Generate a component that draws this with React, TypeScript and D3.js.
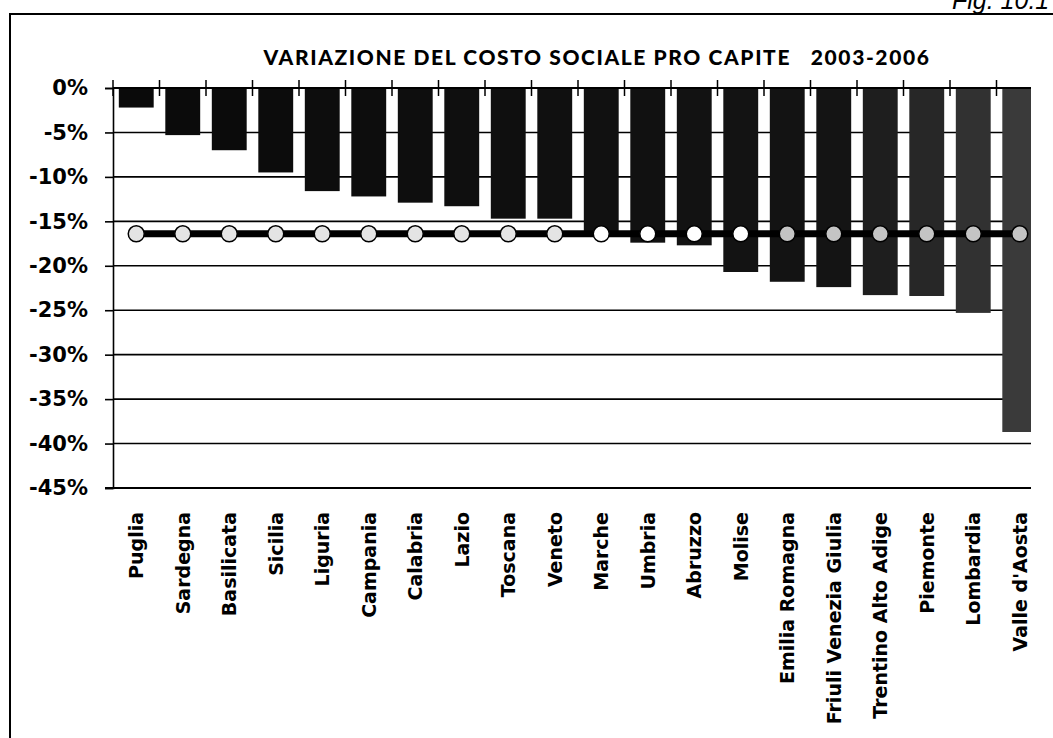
import React, { useEffect, useRef } from 'react';
import * as d3 from 'd3';

// regions, sorted as in the figure
const regions = [
  'Puglia', 'Sardegna', 'Basilicata', 'Sicilia', 'Liguria', 'Campania', 'Calabria',
  'Lazio', 'Toscana', 'Veneto', 'Marche', 'Umbria', 'Abruzzo', 'Molise',
  'Emilia Romagna', 'Friuli Venezia Giulia', 'Trentino Alto Adige', 'Piemonte',
  'Lombardia', "Valle d'Aosta",
];

// % change of social cost per capita 2003-2006
const variation = [
  -2.2, -5.3, -7.0, -9.5, -11.6, -12.2, -12.9, -13.3, -14.7, -14.7,
  -16.6, -17.4, -17.7, -20.7, -21.8, -22.4, -23.3, -23.4, -25.3, -38.7,
];

// Italy average, drawn as a line across all regions
const italyAverage = [
  -16.4, -16.4, -16.4, -16.4, -16.4, -16.4, -16.4, -16.4, -16.4, -16.4,
  -16.4, -16.4, -16.4, -16.4, -16.4, -16.4, -16.4, -16.4, -16.4, -16.4,
];

const yTicks = [0, -5, -10, -15, -20, -25, -30, -35, -40, -45];

const title = 'VARIAZIONE DEL COSTO SOCIALE PRO CAPITE   2003-2006';
const figLabel = 'Fig. 10.1';

const TITLE_FONT = 'Lato, "DejaVu Sans", sans-serif';
const FONT = '"DejaVu Sans", Lato, sans-serif';

const Chart = () => {
  const ref = useRef<HTMLDivElement>(null);

  useEffect(() => {
    if (!ref.current) return;
    d3.select(ref.current).selectAll('*').remove();

    const width = 1053;
    const height = 738;
    const left = 113;
    const top = 88;
    const bottom = 488;
    const clipRight = 1031;

    const svg = d3.select(ref.current)
      .append('svg')
      .attr('width', width)
      .attr('height', height)
      .style('display', 'block')
      .style('background', '#fff');

    // frame
    svg.append('line')
      .attr('x1', 9).attr('x2', width).attr('y1', 14).attr('y2', 14)
      .attr('stroke', '#000').attr('stroke-width', 2);
    svg.append('line')
      .attr('x1', 10).attr('x2', 10).attr('y1', 13).attr('y2', height)
      .attr('stroke', '#000').attr('stroke-width', 2);

    svg.append('text')
      .attr('x', 952)
      .attr('y', 9)
      .style('font-family', '"Liberation Sans", Arial, sans-serif')
      .style('font-style', 'italic')
      .style('font-size', '25px')
      .text(figLabel);

    // title
    svg.append('text')
      .attr('x', 597)
      .attr('y', 65)
      .attr('text-anchor', 'middle')
      .style('font-family', TITLE_FONT)
      .style('font-weight', 900)
      .style('font-size', '21px')
      .style('letter-spacing', '1.6px')
      .style('white-space', 'pre')
      .text(title);

    const x = d3.scaleBand()
      .domain(regions)
      .range([left, 1043])
      .paddingInner(0.25)
      .paddingOuter(0.125);

    const y = d3.scaleLinear()
      .domain([0, -45])
      .range([top, bottom]);

    svg.append('clipPath')
      .attr('id', 'plot-clip')
      .append('rect')
      .attr('x', left)
      .attr('y', 0)
      .attr('width', clipRight - left)
      .attr('height', height);

    // gridlines
    svg.append('g')
      .selectAll('line')
      .data(yTicks.filter(t => t !== 0))
      .enter()
      .append('line')
      .attr('x1', left)
      .attr('x2', clipRight)
      .attr('y1', d => y(d))
      .attr('y2', d => y(d))
      .attr('stroke', '#000')
      .attr('stroke-width', 1.6);

    // bars, a bit greyer towards the right as in the scan
    const shade = d3.scaleLinear<string>()
      .domain([0, 15, 19])
      .range(['#0a0a0a', '#141414', '#3a3a3a']);

    svg.append('g')
      .attr('clip-path', 'url(#plot-clip)')
      .selectAll('rect')
      .data(regions)
      .enter()
      .append('rect')
      .attr('x', d => x(d)!)
      .attr('y', y(0))
      .attr('width', x.bandwidth())
      .attr('height', (d, i) => y(variation[i]) - y(0))
      .attr('fill', (d, i) => shade(i));

    // average line
    const cx = (d: string) => x(d)! + x.bandwidth() / 2;
    const line = d3.line<string>()
      .x(d => cx(d))
      .y((d, i) => y(italyAverage[i]));

    svg.append('path')
      .datum(regions)
      .attr('d', line)
      .attr('fill', 'none')
      .attr('stroke', '#000')
      .attr('stroke-width', 7);

    svg.append('g')
      .selectAll('circle')
      .data(regions)
      .enter()
      .append('circle')
      .attr('cx', d => cx(d))
      .attr('cy', (d, i) => y(italyAverage[i]))
      .attr('r', 8)
      .attr('fill', (d, i) => (i < 10 ? '#e4e4e4' : i < 14 ? '#fff' : '#c4c4c4'))
      .attr('stroke', '#000')
      .attr('stroke-width', 1.5);

    // y axis
    const yAxis = svg.append('g')
      .attr('transform', `translate(${left},0)`)
      .call(d3.axisLeft(y)
        .tickValues(yTicks)
        .tickSize(8)
        .tickPadding(17)
        .tickFormat(d => `${d}%`));
    yAxis.select('.domain').attr('stroke-width', 1.6);
    yAxis.selectAll('.tick line').attr('stroke-width', 1.6);
    yAxis.selectAll('text')
      .style('font-family', FONT)
      .style('font-weight', 700)
      .style('font-size', '21px')
      .attr('fill', '#000');

    // category axis at 0% with cross ticks
    svg.append('line')
      .attr('x1', left).attr('x2', clipRight)
      .attr('y1', y(0)).attr('y2', y(0))
      .attr('stroke', '#000').attr('stroke-width', 2);

    const step = x.step();
    const boundaries = d3.range(regions.length + 1)
      .map(i => left + i * step)
      .filter(v => v <= clipRight);
    svg.append('g')
      .selectAll('line')
      .data(boundaries)
      .enter()
      .append('line')
      .attr('x1', d => d).attr('x2', d => d)
      .attr('y1', y(0) - 8).attr('y2', y(0) + 8)
      .attr('stroke', '#000').attr('stroke-width', 1.5);

    // bottom edge
    svg.append('line')
      .attr('x1', left - 8).attr('x2', clipRight)
      .attr('y1', bottom).attr('y2', bottom)
      .attr('stroke', '#000').attr('stroke-width', 2);

    // category labels
    svg.append('g')
      .selectAll('text')
      .data(regions)
      .enter()
      .append('text')
      .attr('transform', d => `translate(${cx(d)},512) rotate(-90)`)
      .attr('text-anchor', 'end')
      .attr('dy', '0.36em')
      .style('font-family', FONT)
      .style('font-weight', 700)
      .style('font-size', '19px')
      .text(d => d);
  }, []);

  return <div ref={ref} />;
};

export default function App() {
  return (
    <div style={{ position: 'absolute', left: 0, top: 0 }}>
      <Chart />
    </div>
  );
}
